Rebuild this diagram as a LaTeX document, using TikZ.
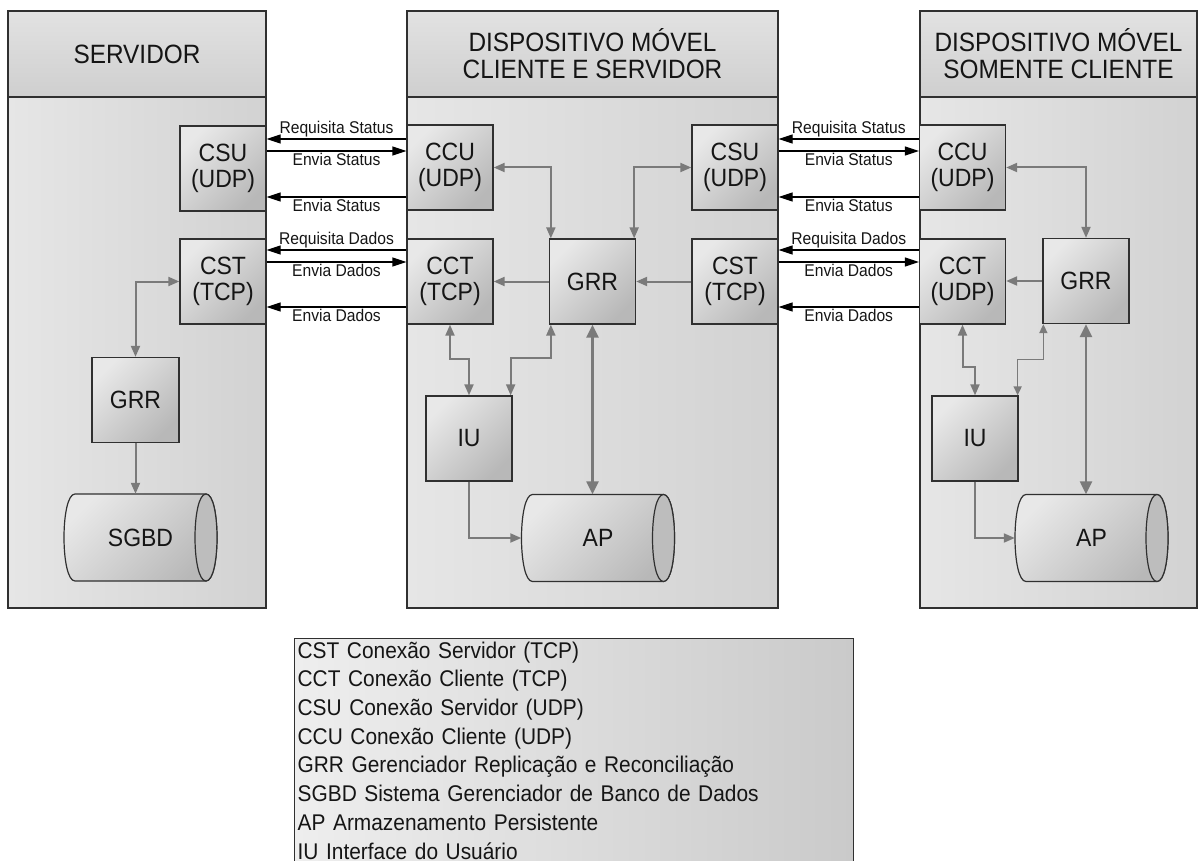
\documentclass[tikz,border=0pt]{standalone}
\usepackage{fontspec}
\setmainfont{Liberation Sans}[FakeStretch=0.92]
\usetikzlibrary{arrows.meta}
\definecolor{ln}{HTML}{303030}
\definecolor{ga}{HTML}{7A7A7A}
\definecolor{txt}{HTML}{151515}
\definecolor{colL}{HTML}{E6E6E6}
\definecolor{colR}{HTML}{D2D2D2}
\definecolor{hdT}{HTML}{E2E2E2}
\definecolor{hdB}{HTML}{CFCFCF}
\definecolor{bxA}{HTML}{E8E8E8}
\definecolor{bxB}{HTML}{B8B8B8}
\definecolor{lgL}{HTML}{EEEEEE}
\definecolor{lgR}{HTML}{CACACA}
\definecolor{lens}{HTML}{BDBDBD}
\newcommand{\cylshape}[4]{%
  \path[cylbody] ({#1-#3/2+11},{#2-#4/2}) -- ({#1+#3/2-11},{#2-#4/2})
    .. controls ({#1+#3/2+3.67},{#2-#4/2}) and ({#1+#3/2+3.67},{#2+#4/2}) .. ({#1+#3/2-11},{#2+#4/2})
    -- ({#1-#3/2+11},{#2+#4/2})
    .. controls ({#1-#3/2-3.67},{#2+#4/2}) and ({#1-#3/2-3.67},{#2-#4/2}) .. ({#1-#3/2+11},{#2-#4/2}) -- cycle;
  \path[cylend] ({#1+#3/2-11},{#2-#4/2})
    .. controls ({#1+#3/2-25.67},{#2-#4/2}) and ({#1+#3/2-25.67},{#2+#4/2}) .. ({#1+#3/2-11},{#2+#4/2})
    .. controls ({#1+#3/2+3.67},{#2+#4/2}) and ({#1+#3/2+3.67},{#2-#4/2}) .. ({#1+#3/2-11},{#2-#4/2}) -- cycle;
}
\tikzset{
  colbody/.style={draw=ln, line width=1.4pt, left color=colL, right color=colR, inner sep=0pt},
  hdr/.style={draw=ln, line width=1.4pt, top color=hdT, bottom color=hdB, inner sep=0pt,
    font=\fontsize{26.5}{27}\selectfont, align=center, text=txt},
  box/.style={draw=ln, line width=1.3pt, minimum width=86pt, minimum height=85pt, inner sep=0pt,
    top color=bxA, bottom color=bxB, shading angle=45,
    font=\fontsize{25}{26}\selectfont, align=center, text=txt},
  cylbody/.style={draw=ln, line width=1.2pt, top color=bxA, bottom color=bxB, shading angle=45},
  cylend/.style={draw=ln, line width=1.2pt, fill=lens},
  cylnode/.style={minimum width=153pt, minimum height=87pt, inner sep=0pt,
    font=\fontsize{25}{26}\selectfont, text=txt},
  blk/.style={draw=black, line width=1.3pt, -{Triangle[length=14pt,width=9pt]}},
  lblA/.style={midway, above, inner sep=1pt, font=\fontsize{17}{18}\selectfont, text=txt},
  lblB/.style={midway, below, inner sep=1.5pt, font=\fontsize{17}{18}\selectfont, text=txt},
  lnk/.style={draw=ga, line width=2pt},
  gto/.style={lnk, -{Triangle[length=11pt,width=9pt]}},
  gboth/.style={lnk, {Triangle[length=11pt,width=9pt]}-{Triangle[length=11pt,width=9pt]}},
  gbig/.style={draw=ga, line width=2.4pt, {Triangle[length=13pt,width=12pt]}-{Triangle[length=13pt,width=12pt]}},
  gsmall/.style={draw=ga, line width=1.6pt, {Triangle[length=9pt,width=8pt]}-{Triangle[length=9pt,width=8pt]}},
  legend/.style={draw=ln, line width=1.3pt, left color=lgL, right color=lgR, align=left,
    text width=553pt, inner xsep=3pt, inner ysep=3pt, font=\fontsize{22.7}{28.7}\selectfont, text=txt}
}
\begin{document}
\begin{tikzpicture}[x=1pt, y=-1pt]
\useasboundingbox (0,0) rectangle (1202,861);
\clip (0,0) rectangle (1202,861);
\fill[white] (0,0) rectangle (1202,861);

% columns
\node[colbody, minimum width=258pt, minimum height=511pt] (col1) at (137,352.5) {};
\node[hdr, minimum width=258pt, minimum height=86pt] (hdr1) at (137,54) {SERVIDOR};
\node[colbody, minimum width=371pt, minimum height=511pt] (col2) at (592.5,352.5) {};
\node[hdr, minimum width=371pt, minimum height=86pt] (hdr2) at (592.5,54) {DISPOSITIVO MÓVEL\\CLIENTE E SERVIDOR};
\node[colbody, minimum width=277pt, minimum height=511pt] (col3) at (1058.5,352.5) {};
\node[hdr, minimum width=277pt, minimum height=86pt] (hdr3) at (1058.5,54) {DISPOSITIVO MÓVEL\\SOMENTE CLIENTE};

% cylinders
\cylshape{140.5}{537.5}{153}{87}
\cylshape{598}{538}{153}{87}
\cylshape{1091.5}{538}{153}{87}
\node[cylnode] (SGBD) at (140.5,537.5) {SGBD};
\node[cylnode] (AP2) at (598,538) {AP};
\node[cylnode] (AP3) at (1091.5,538) {AP};

% column 1
\node[box] (CSU1) at (223,168.5) {CSU\\(UDP)};
\node[box] (CST1) at (223,281.5) {CST\\(TCP)};
\node[box, minimum width=87pt] (GRR1) at (135.5,400) {GRR};

% column 2
\node[box] (CCU2) at (450,167.5) {CCU\\(UDP)};
\node[box] (CCT2) at (450,281.5) {CCT\\(TCP)};
\node[box] (GRR2) at (592.5,281.5) {GRR};
\node[box] (CSU2) at (735,167.5) {CSU\\(UDP)};
\node[box] (CST2) at (735,281.5) {CST\\(TCP)};
\node[box] (IU2) at (469,438.5) {IU};

% column 3
\node[box] (CCU3) at (962.5,167.5) {CCU\\(UDP)};
\node[box] (CCT3) at (962.5,281.5) {CCT\\(UDP)};
\node[box] (GRR3) at (1086,281) {GRR};
\node[box] (IU3) at (975,438.5) {IU};

% gray links column 1
\draw[gboth] (GRR1.north) |- (CST1.west);
\draw[gto] (GRR1.south) -- (GRR1.south |- SGBD.north);

% gray links column 2
\draw[gboth] (CCU2.east) -| ([xshift=2pt]GRR2.north west);
\draw[gboth] (CSU2.west) -| ([xshift=-2pt]GRR2.north east);
\draw[gto] (GRR2.west) -- (CCT2.east);
\draw[gto] (CST2.west) -- (GRR2.east);
\draw[gboth] (CCT2.south) -- (CCT2.south |- 0,359) -| (IU2.north);
\draw[gboth] ([xshift=-2pt]IU2.north east) -- ++(0,-37) -| ([xshift=2pt]GRR2.south west);
\draw[gbig] (GRR2.south) -- (GRR2.south |- AP2.north);
\draw[gto] (IU2.south) |- (AP2.west);

% gray links column 3
\draw[gboth] (CCU3.east) -| (GRR3.north);
\draw[gto] (GRR3.west) -- (CCT3.east |- GRR3.west);
\draw[gboth] (CCT3.south) -- (CCT3.south |- 0,367) -| (IU3.north);
\draw[gsmall] ([xshift=-1pt]IU3.north east) -- ++(0,-36) -| ([xshift=1pt]GRR3.south west);
\draw[gbig] (GRR3.south) -- (GRR3.south |- AP3.north);
\draw[gto] (IU3.south) |- (AP3.west);

% black arrows col1 <-> col2
\draw[blk] (CCU2.west |- 0,139) -- node[lblA]{Requisita Status} (CSU1.east |- 0,139);
\draw[blk] (CSU1.east |- 0,151) -- node[lblB]{Envia Status} (CCU2.west |- 0,151);
\draw[blk] (CCU2.west |- 0,197) -- node[lblB]{Envia Status} (CSU1.east |- 0,197);
\draw[blk] (CCT2.west |- 0,250) -- node[lblA]{Requisita Dados} (CST1.east |- 0,250);
\draw[blk] (CST1.east |- 0,262) -- node[lblB]{Envia Dados} (CCT2.west |- 0,262);
\draw[blk] (CCT2.west |- 0,307) -- node[lblB]{Envia Dados} (CST1.east |- 0,307);

% black arrows col2 <-> col3
\draw[blk] (CCU3.west |- 0,139) -- node[lblA]{Requisita Status} (CSU2.east |- 0,139);
\draw[blk] (CSU2.east |- 0,151) -- node[lblB]{Envia Status} (CCU3.west |- 0,151);
\draw[blk] (CCU3.west |- 0,197) -- node[lblB]{Envia Status} (CSU2.east |- 0,197);
\draw[blk] (CCT3.west |- 0,250) -- node[lblA]{Requisita Dados} (CST2.east |- 0,250);
\draw[blk] (CST2.east |- 0,262) -- node[lblB]{Envia Dados} (CCT3.west |- 0,262);
\draw[blk] (CCT3.west |- 0,307) -- node[lblB]{Envia Dados} (CST2.east |- 0,307);

% legend
\node[legend, anchor=north west] (legend) at (294,638) {CST Conexão Servidor (TCP)\\
CCT Conexão Cliente (TCP)\\
CSU Conexão Servidor (UDP)\\
CCU Conexão Cliente (UDP)\\
GRR Gerenciador Replicação e Reconciliação\\
SGBD Sistema Gerenciador de Banco de Dados\\
AP Armazenamento Persistente\\
IU Interface do Usuário};
\end{tikzpicture}
\end{document}
